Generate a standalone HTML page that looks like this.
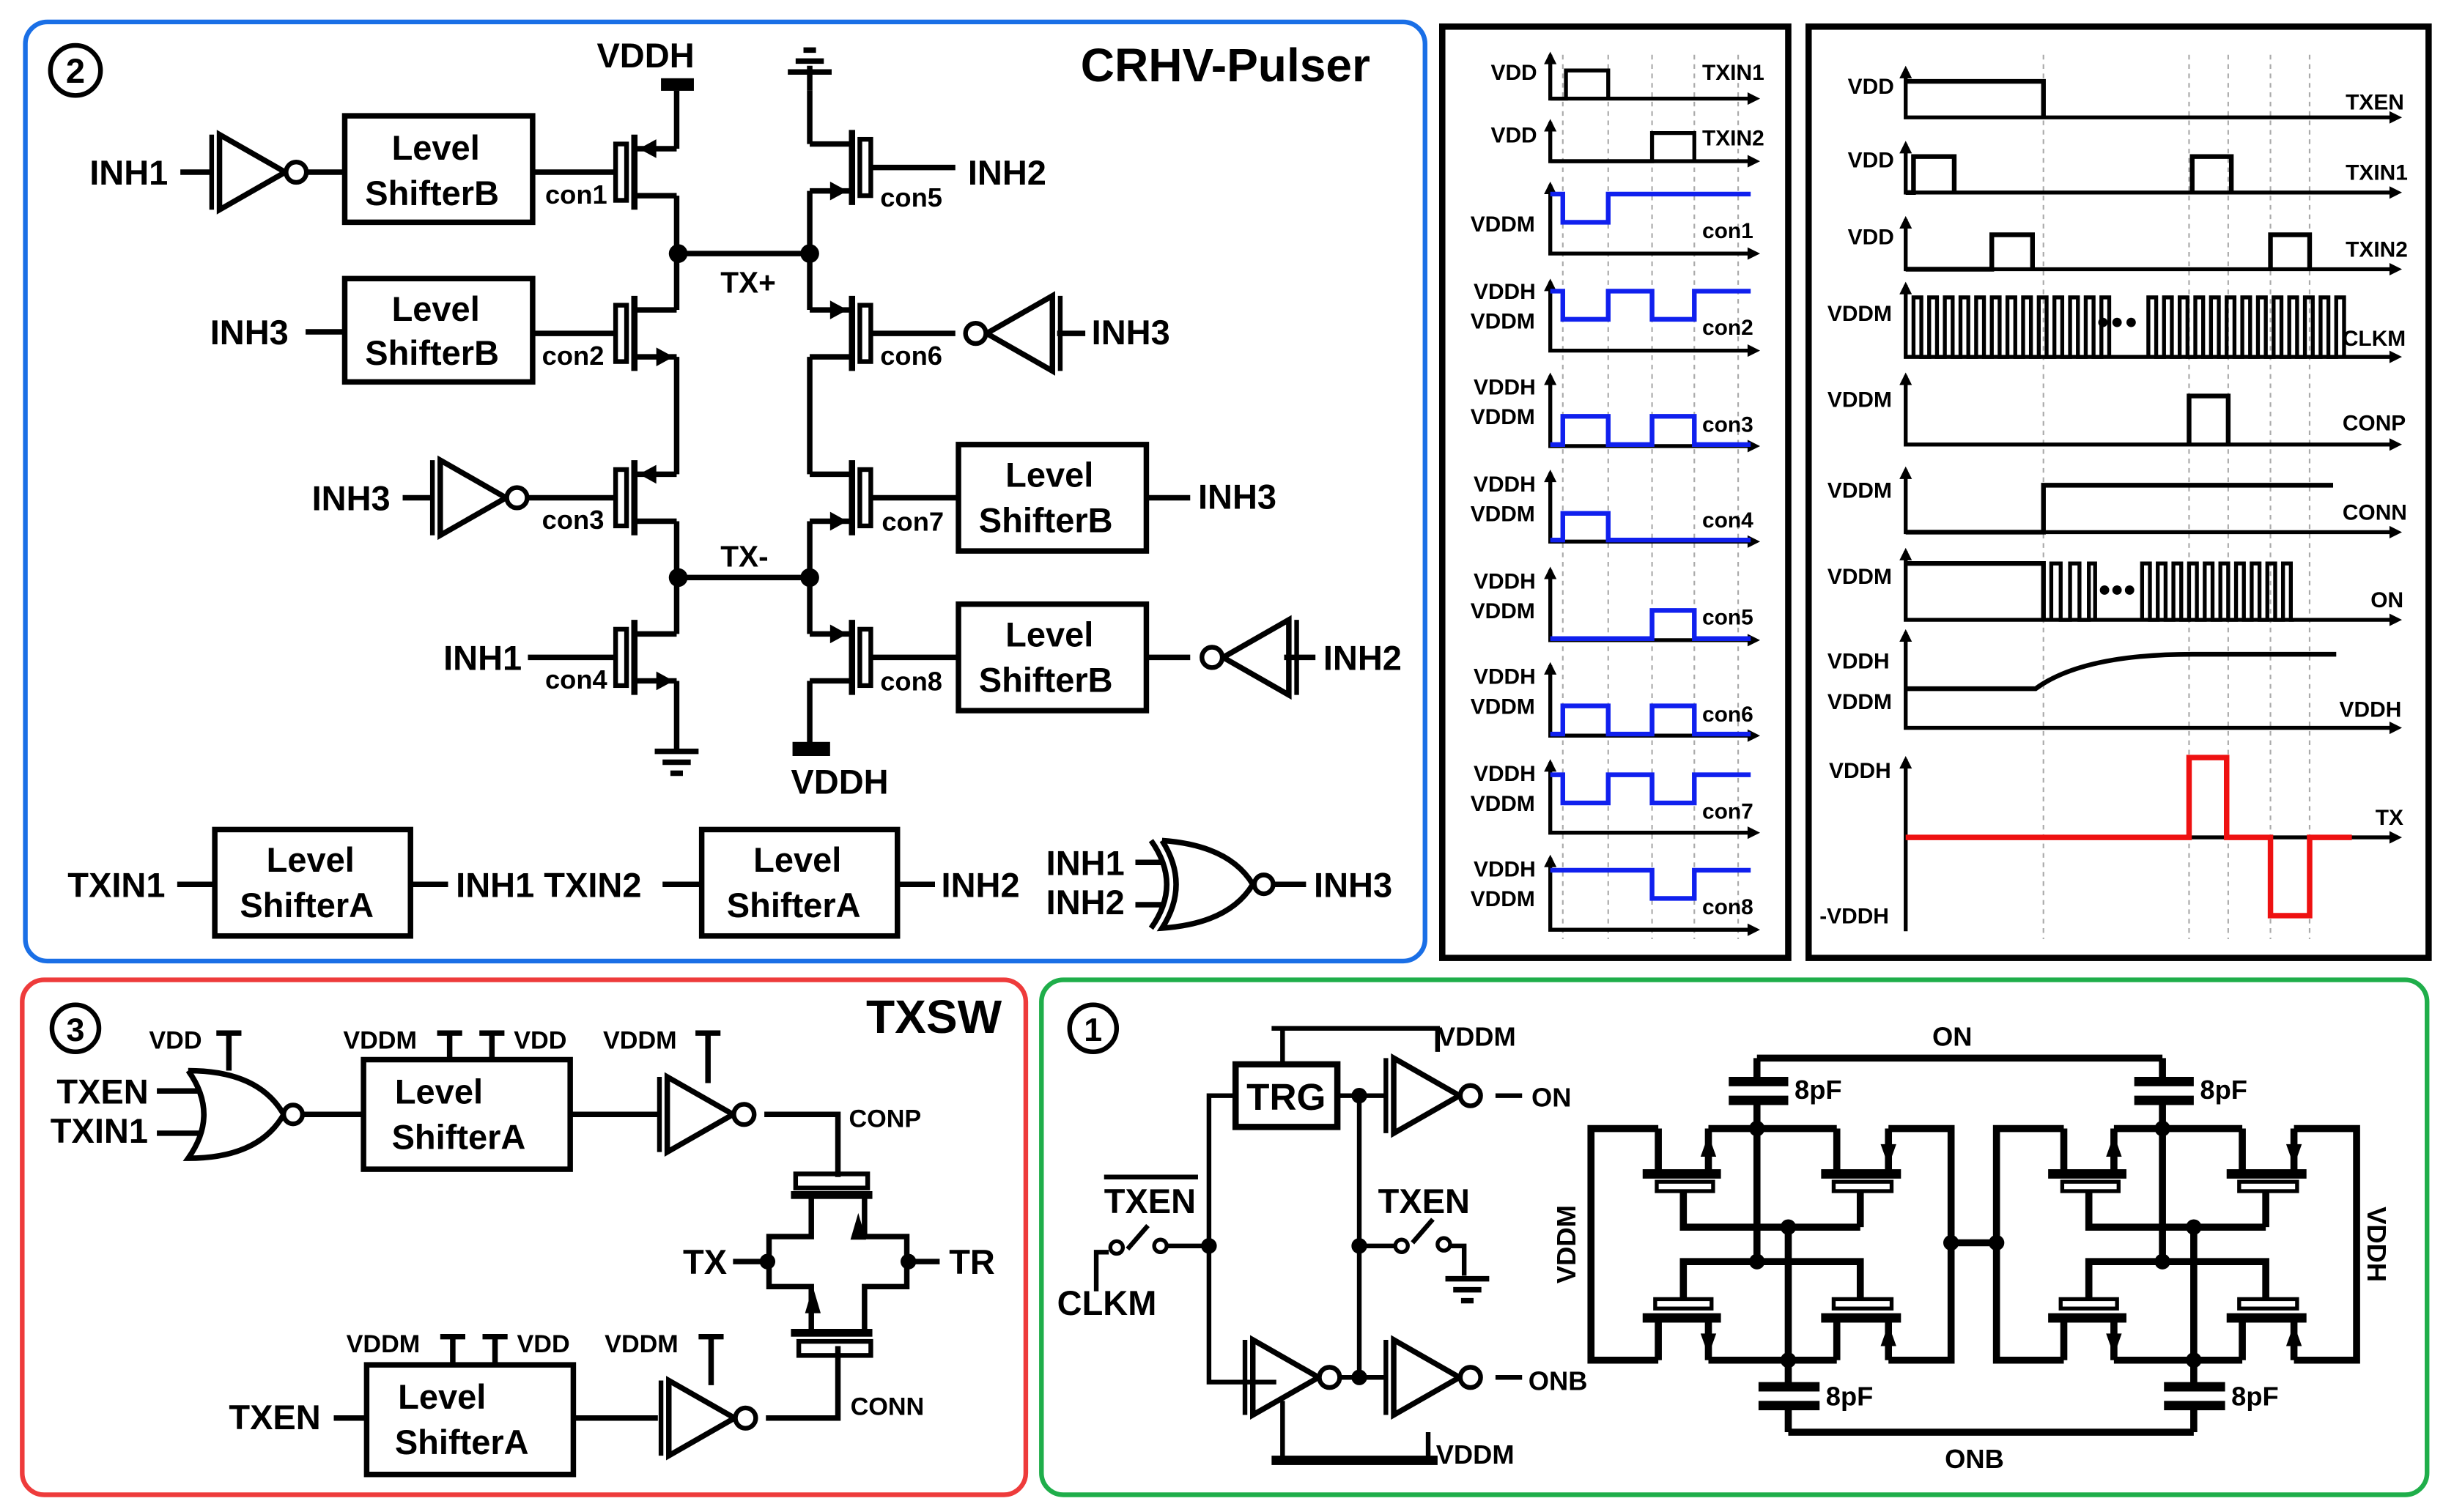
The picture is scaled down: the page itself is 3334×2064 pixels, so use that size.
<!DOCTYPE html>
<html><head><meta charset="utf-8"><style>
html,body{margin:0;padding:0;background:#fff;}
svg{display:block}
text{font-family:"Liberation Sans",sans-serif;font-weight:bold;fill:#000}
</style></head><body>
<svg width="3334" height="2064" viewBox="0 0 1560 966" xmlns="http://www.w3.org/2000/svg">
<defs>
<g id="tb"><!-- transistor body, gate on left -->
<rect x="-15" y="-18" width="7" height="36" fill="none" stroke="#000" stroke-width="3"/>
<line x1="-3" y1="-24" x2="-3" y2="24" stroke="#000" stroke-width="4"/>
<path d="M-3,-15 H24 M-3,15 H24" stroke="#000" stroke-width="3.5" fill="none"/>
</g>
<g id="tp"><use href="#tb"/><path d="M0,-15 l11,-6 v12z" fill="#000"/></g>
<g id="tn"><use href="#tb"/><path d="M22,15 l-11,-6 v12z" fill="#000"/></g>
<g id="tpi"><use href="#tb"/><path d="M0,15 l11,-6 v12z" fill="#000"/></g>
<g id="inv">
<path d="M0,-24 L0,24 L42,0 Z" fill="none" stroke="#000" stroke-width="3.5"/>
<line x1="-5" y1="-24" x2="-5" y2="24" stroke="#000" stroke-width="3"/>
<circle cx="49" cy="0" r="6.5" fill="#fff" stroke="#000" stroke-width="3"/>
</g>
<g id="gnd"><path d="M-14,0 H14 M-9,7 H9 M-4,14 H4" stroke="#000" stroke-width="3.5"/></g>
<g id="cc">
<g fill="none" stroke="#000" stroke-width="4.5">
<path d="M1059,721 H1016 V869 H1059"/>
<path d="M1059,721 V750 M1075,761 V784 H1188 M1091,750 V721 M1091,721 H1173"/>
<path d="M1173,721 V750 M1188,761 V784 M1206,750 V721 M1206,721 H1246 V869 H1206"/>
<path d="M1122,703 V806 M1142,784 V886 M1142,897 V915 M1122,676 V691"/>
<path d="M1075,830 V806 H1188 V830"/>
<path d="M1059,842 V869 M1091,842 V869 M1091,869 H1173 M1173,842 V869 M1206,842 V869"/>
</g>
<g fill="#000">
<rect x="1049" y="747" width="50" height="6"/><rect x="1163" y="747" width="51" height="6"/>
<rect x="1049" y="839" width="50" height="6"/><rect x="1163" y="839" width="51" height="6"/>
<rect x="1104" y="688" width="38" height="6"/><rect x="1104" y="700" width="38" height="6"/>
<rect x="1123" y="883" width="39" height="6"/><rect x="1123" y="895" width="39" height="6"/>
<circle cx="1122" cy="721" r="5"/><circle cx="1122" cy="806" r="5"/><circle cx="1142" cy="784" r="5"/><circle cx="1142" cy="869" r="5"/>
<path d="M1091,725 l-5,14 h10z M1206,745 l-5,-14 h10z M1091,866 l-5,-14 h10z M1206,846 l-5,14 h10z"/>
</g>
<g fill="#fff" stroke="#000" stroke-width="2.5">
<rect x="1058" y="755" width="36" height="6"/><rect x="1171" y="755" width="37" height="6"/>
<rect x="1057" y="830" width="36" height="6"/><rect x="1171" y="830" width="37" height="6"/>
</g>
</g>
</defs>

<!-- Panel borders -->
<rect x="16" y="14" width="894" height="600" rx="14" fill="none" stroke="#1a6fe6" stroke-width="3"/>
<rect x="921" y="17" width="221" height="595" fill="none" stroke="#000" stroke-width="4"/>
<rect x="1155" y="17" width="396" height="595" fill="none" stroke="#000" stroke-width="4"/>
<rect x="14" y="626" width="641" height="329" rx="14" fill="none" stroke="#ee3b3b" stroke-width="3"/>
<rect x="665" y="626" width="885" height="329" rx="14" fill="none" stroke="#1fae4a" stroke-width="3"/>

<!-- ===== Panel 2 ===== -->
<circle cx="48" cy="45" r="16" fill="none" stroke="#000" stroke-width="3"/>
<text x="48" y="53" font-size="22" text-anchor="middle">2</text>
<text x="690" y="52" font-size="30">CRHV-Pulser</text>
<text x="381" y="43" font-size="22">VDDH</text>
<rect x="422" y="50" width="21" height="8" fill="#000"/>
<g stroke="#000" stroke-width="3.5" fill="none">
<path d="M432,58 V95 M432,125 V198 M432,228 V303 M432,333 V405 M432,435 V480"/>
<path d="M517,58 V92 M517,122 V198 M517,228 V303 M517,333 V405 M517,435 V475"/>
<path d="M517,42 V58"/>
<path d="M433,162 H517 M433,369 H517"/>
</g>
<use href="#gnd" transform="translate(517,46) rotate(180)"/>
<rect x="506" y="474" width="24" height="9" fill="#000"/>
<text x="505" y="507" font-size="22">VDDH</text>
<use href="#gnd" x="432" y="480"/>
<circle cx="433" cy="162" r="6" fill="#000"/><circle cx="517" cy="162" r="6" fill="#000"/>
<circle cx="433" cy="369" r="6" fill="#000"/><circle cx="517" cy="369" r="6" fill="#000"/>
<text x="460" y="187" font-size="19">TX+</text>
<text x="460" y="362" font-size="19">TX-</text>
<use href="#tp" x="408" y="110"/><use href="#tn" x="408" y="213"/><use href="#tp" x="408" y="318"/><use href="#tn" x="408" y="420"/>
<g transform="translate(1050,0) scale(-1,1)"><use href="#tpi" x="509" y="107"/><use href="#tp" x="509" y="213"/><use href="#tpi" x="509" y="318"/><use href="#tp" x="509" y="420"/></g>
<text x="348" y="130" font-size="17">con1</text><text x="346" y="233" font-size="17">con2</text>
<text x="346" y="338" font-size="17">con3</text><text x="348" y="440" font-size="17">con4</text>
<text x="562" y="132" font-size="17">con5</text><text x="562" y="233" font-size="17">con6</text>
<text x="563" y="339" font-size="17">con7</text><text x="562" y="441" font-size="17">con8</text>
<g fill="none" stroke="#000" stroke-width="3.5">
<rect x="220" y="74" width="120" height="68"/><rect x="220" y="178" width="120" height="66"/>
<rect x="612" y="284" width="120" height="68"/><rect x="612" y="386" width="120" height="68"/>
<rect x="137" y="530" width="125" height="68"/><rect x="448" y="530" width="125" height="68"/>
<path d="M115,110 H135 M193,110 H220 M340,110 H393"/>
<path d="M195,212 H220 M340,213 H393"/>
<path d="M257,318 H276 M333,318 H393"/>
<path d="M337,420 H393"/>
<path d="M557,107 H610"/>
<path d="M557,213 H610 M675,213 H693"/>
<path d="M557,318 H612 M732,318 H760"/>
<path d="M557,420 H612 M732,420 H760 M820,420 H840"/>
<path d="M113,565 H137 M262,565 H286 M423,565 H448 M573,565 H597"/>
<path d="M725,551 H742 M725,578 H742 M812,565 H834"/>
<path d="M735,537 Q755,565 735,593 M742,537 Q760,565 742,593 Q785,590 800,565 Q785,540 742,537"/>
</g>
<circle cx="807" cy="565" r="6" fill="#fff" stroke="#000" stroke-width="3"/>
<use href="#inv" x="140" y="110"/><use href="#inv" x="281" y="318"/>
<use href="#inv" transform="translate(672,213) scale(-1,1)"/>
<use href="#inv" transform="translate(823,420) scale(-1,1)"/>
<g font-size="22">
<text x="250" y="102">Level</text><text x="233" y="131">ShifterB</text>
<text x="250" y="205">Level</text><text x="233" y="233">ShifterB</text>
<text x="642" y="311">Level</text><text x="625" y="340">ShifterB</text>
<text x="642" y="413">Level</text><text x="625" y="442">ShifterB</text>
<text x="170" y="557">Level</text><text x="153" y="586">ShifterA</text>
<text x="481" y="557">Level</text><text x="464" y="586">ShifterA</text>
<text x="57" y="118">INH1</text><text x="134" y="220">INH3</text><text x="199" y="326">INH3</text>
<text x="283" y="428">INH1</text><text x="618" y="118">INH2</text><text x="697" y="220">INH3</text>
<text x="765" y="325">INH3</text><text x="845" y="428">INH2</text>
<text x="43" y="573">TXIN1</text><text x="291" y="573">INH1 TXIN2</text><text x="601" y="573">INH2</text>
<text x="668" y="559">INH1</text><text x="668" y="584">INH2</text><text x="839" y="573">INH3</text>
</g>

<!-- ===== Waveform panel A ===== -->
<g stroke="#aaa" stroke-width="1" stroke-dasharray="3,3">
<path d="M998,35 V600 M1027,35 V600 M1055,35 V600 M1082,35 V600 M1110,35 V600"/>
</g>
<g stroke="#000" stroke-width="2.5" fill="none">
<path d="M990,35 V63 H1120 M990,78 V103 H1120 M990,118 V162 H1120 M990,180 V224 H1120 M990,240 V285 H1120 M990,302 V346 H1120 M990,364 V409 H1120 M990,425 V470 H1120 M990,487 V532 H1120 M990,548 V594 H1120"/>
<path d="M990,63 H1000 V45 H1027 V63 M990,103 H1055 V85 H1082 V103"/>
</g>
<g fill="#000">
<path d="M1124,63 l-8,-4 v8z M1124,103 l-8,-4 v8z M1124,162 l-8,-4 v8z M1124,224 l-8,-4 v8z M1124,285 l-8,-4 v8z M1124,346 l-8,-4 v8z M1124,409 l-8,-4 v8z M1124,470 l-8,-4 v8z M1124,532 l-8,-4 v8z M1124,594 l-8,-4 v8z"/>
<path d="M990,33 l-4,8 h8z M990,76 l-4,8 h8z M990,116 l-4,8 h8z M990,178 l-4,8 h8z M990,238 l-4,8 h8z M990,300 l-4,8 h8z M990,362 l-4,8 h8z M990,423 l-4,8 h8z M990,485 l-4,8 h8z M990,546 l-4,8 h8z"/>
</g>
<g stroke="#1020ee" stroke-width="3" fill="none">
<path d="M990,124 H998 V142 H1027 V124 H1118"/>
<path d="M990,186 H998 V204 H1027 V186 H1055 V204 H1082 V186 H1118"/>
<path d="M990,284 H998 V266 H1027 V284 H1055 V266 H1082 V284 H1118"/>
<path d="M990,345 H998 V328 H1027 V345 H1118"/>
<path d="M990,408 H1055 V390 H1082 V408 H1118"/>
<path d="M990,469 H998 V451 H1027 V469 H1055 V451 H1082 V469 H1118"/>
<path d="M990,495 H998 V513 H1027 V495 H1055 V513 H1082 V495 H1118"/>
<path d="M990,556 H1055 V574 H1082 V556 H1118"/>
</g>
<g font-size="14">
<text x="952" y="51">VDD</text><text x="1087" y="51">TXIN1</text>
<text x="952" y="91">VDD</text><text x="1087" y="93">TXIN2</text>
<text x="939" y="148">VDDM</text><text x="1087" y="152">con1</text>
<text x="941" y="191">VDDH</text><text x="939" y="210">VDDM</text><text x="1087" y="214">con2</text>
<text x="941" y="252">VDDH</text><text x="939" y="271">VDDM</text><text x="1087" y="276">con3</text>
<text x="941" y="314">VDDH</text><text x="939" y="333">VDDM</text><text x="1087" y="337">con4</text>
<text x="941" y="376">VDDH</text><text x="939" y="395">VDDM</text><text x="1087" y="399">con5</text>
<text x="941" y="437">VDDH</text><text x="939" y="456">VDDM</text><text x="1087" y="461">con6</text>
<text x="941" y="499">VDDH</text><text x="939" y="518">VDDM</text><text x="1087" y="523">con7</text>
<text x="941" y="560">VDDH</text><text x="939" y="579">VDDM</text><text x="1087" y="584">con8</text>
</g>

<!-- ===== Waveform panel B ===== -->
<g stroke="#aaa" stroke-width="1" stroke-dasharray="3,3">
<path d="M1305,35 V600 M1398,35 V600 M1423,35 V600 M1450,35 V600 M1475,35 V600"/>
</g>
<g stroke="#000" stroke-width="2.5" fill="none">
<path d="M1217,44 V75 H1530 M1217,92 V123 H1530 M1217,140 V172 H1530 M1217,182 V228 H1530 M1217,240 V284 H1530 M1217,300 V340 H1530 M1217,352 V396 H1530 M1217,404 V465 H1530 M1217,485 V595"/>
<path d="M1217,535 H1530"/>
</g>
<g fill="#000">
<path d="M1534,75 l-8,-4 v8z M1534,123 l-8,-4 v8z M1534,172 l-8,-4 v8z M1534,228 l-8,-4 v8z M1534,284 l-8,-4 v8z M1534,340 l-8,-4 v8z M1534,396 l-8,-4 v8z M1534,465 l-8,-4 v8z M1534,535 l-8,-4 v8z"/>
<path d="M1217,42 l-4,8 h8z M1217,90 l-4,8 h8z M1217,138 l-4,8 h8z M1217,180 l-4,8 h8z M1217,238 l-4,8 h8z M1217,298 l-4,8 h8z M1217,350 l-4,8 h8z M1217,402 l-4,8 h8z M1217,483 l-4,8 h8z"/>
</g>
<g stroke="#000" stroke-width="3" fill="none">
<path d="M1217,52 H1305 V75"/>
<path d="M1217,123 H1222 V100 H1248 V123 M1400,123 V100 H1425 V123"/>
<path d="M1217,172 H1272 V150 H1298 V172 M1450,172 V150 H1475 V172"/>
<path d="M1217,340 H1305 V310 H1490"/>
<path d="M1217,440 H1300 Q1330,418 1400,418 H1492"/>
<path d="M1398,284 V253 H1423 V284"/>
<path d="M1217,360 H1305 V396"/>
</g>
<g stroke="#000" stroke-width="2.5" fill="none">
<path d="M1222,228 V190 h5 v38 h5 v-38 h5 v38 h5 v-38 h5 v38 h5 v-38 h5 v38 h5 v-38 h5 v38 h5 v-38 h5 v38 h5 v-38 h5 v38 h5 v-38 h5 v38 h5 v-38 h5 v38 h5 v-38 h5 v38 h5 v-38 h5 v38 h5 v-38 h5 v38 h5 v-38 h5 v38"/>
<path d="M1372,228 V190 h5 v38 h5 v-38 h5 v38 h5 v-38 h5 v38 h5 v-38 h5 v38 h5 v-38 h5 v38 h5 v-38 h5 v38 h5 v-38 h5 v38 h5 v-38 h5 v38 h5 v-38 h5 v38 h5 v-38 h5 v38 h5 v-38 h5 v38 h5 v-38 h5 v38 h5 v-38 h5 v38"/>
<path d="M1310,396 V360 h6 v36 h6 v-36 h6 v36 h6 v-36 h4 v36"/>
<path d="M1368,396 V360 h5 v36 h5 v-36 h5 v36 h5 v-36 h5 v36 h5 v-36 h5 v36 h5 v-36 h5 v36 h5 v-36 h5 v36 h5 v-36 h5 v36 h5 v-36 h5 v36 h5 v-36 h5 v36 h5 v-36 h5 v36 h2"/>
</g>
<g fill="#000"><circle cx="1343" cy="206" r="3"/><circle cx="1352" cy="206" r="3"/><circle cx="1361" cy="206" r="3"/>
<circle cx="1344" cy="377" r="3"/><circle cx="1352" cy="377" r="3"/><circle cx="1360" cy="377" r="3"/></g>
<path d="M1217,535 H1398 V484 H1422 V535 H1450 V585 H1475 V535 H1502" stroke="#ee1111" stroke-width="3.5" fill="none"/>
<g font-size="14">
<text x="1180" y="60">VDD</text><text x="1498" y="70">TXEN</text>
<text x="1180" y="107">VDD</text><text x="1498" y="115">TXIN1</text>
<text x="1180" y="156">VDD</text><text x="1498" y="164">TXIN2</text>
<text x="1167" y="205">VDDM</text><text x="1496" y="221">CLKM</text>
<text x="1167" y="260">VDDM</text><text x="1496" y="275">CONP</text>
<text x="1167" y="318">VDDM</text><text x="1496" y="332">CONN</text>
<text x="1167" y="373">VDDM</text><text x="1514" y="388">ON</text>
<text x="1167" y="427">VDDH</text><text x="1167" y="453">VDDM</text><text x="1494" y="458">VDDH</text>
<text x="1168" y="497">VDDH</text><text x="1162" y="590">-VDDH</text><text x="1517" y="527">TX</text>
</g>

<!-- ===== Panel 3 TXSW ===== -->
<circle cx="48" cy="657" r="15" fill="none" stroke="#000" stroke-width="3"/>
<text x="48" y="665" font-size="21" text-anchor="middle">3</text>
<text x="553" y="660" font-size="30">TXSW</text>
<g fill="none" stroke="#000" stroke-width="3.5">
<path d="M100,697 H128 M100,724 H128 M146,660 V684 M138,660 H154"/>
<path d="M120,684 Q140,712 120,740 Q165,740 181,712 Q165,684 120,684"/>
<path d="M193,712 H232 M364,712 H420 M488,712 H535 V752"/>
<rect x="232" y="677" width="132" height="70"/>
<path d="M287,660 V677 M279,660 H295 M314,660 V677 M306,660 H322 M452,660 V692 M444,660 H460"/>
<path d="M213,906 H234 M366,906 H420 M489,906 H535 V860"/>
<rect x="234" y="872" width="132" height="70"/>
<path d="M289,854 V872 M281,854 H297 M316,854 V872 M308,854 H324 M454,854 V885 M446,854 H462"/>
<path d="M518,764 V790 H491 V822 H518 V852 M552,764 V790 H579 V822 H552 V852"/>
<path d="M468,806 H490 M580,806 H600"/>
</g>
<rect x="508" y="750" width="46" height="9" fill="none" stroke="#000" stroke-width="3"/>
<rect x="505" y="761" width="52" height="5" fill="#000"/>
<rect x="505" y="849" width="52" height="5" fill="#000"/>
<rect x="510" y="857" width="46" height="9" fill="none" stroke="#000" stroke-width="3"/>
<path d="M548,775 l-5,17 h10z M519,822 l-5,17 h10z" fill="#000"/>
<circle cx="490" cy="806" r="5" fill="#000"/><circle cx="580" cy="806" r="5" fill="#000"/>
<circle cx="187" cy="712" r="6" fill="#fff" stroke="#000" stroke-width="3"/>
<use href="#inv" x="426" y="712"/><use href="#inv" x="427" y="906"/>
<g font-size="22">
<text x="252" y="705">Level</text><text x="250" y="734">ShifterA</text>
<text x="254" y="900">Level</text><text x="252" y="929">ShifterA</text>
<text x="36" y="705">TXEN</text><text x="32" y="730">TXIN1</text>
<text x="146" y="913">TXEN</text><text x="436" y="814">TX</text><text x="606" y="814">TR</text>
</g>
<g font-size="16">
<text x="95" y="670">VDD</text><text x="219" y="670">VDDM</text><text x="328" y="670">VDD</text><text x="385" y="670">VDDM</text>
<text x="221" y="864">VDDM</text><text x="330" y="864">VDD</text><text x="386" y="864">VDDM</text>
<text x="542" y="720">CONP</text><text x="543" y="904">CONN</text>
</g>

<!-- ===== Panel 1 ===== -->
<circle cx="698" cy="657" r="15" fill="none" stroke="#000" stroke-width="3"/>
<text x="698" y="665" font-size="21" text-anchor="middle">1</text>
<g fill="none" stroke="#000" stroke-width="3">
<path d="M812,657 H918 V672 M819,657 V680"/>
<rect x="789" y="680" width="65" height="40" stroke-width="4"/>
<path d="M789,700 H772 V883 H815 M854,700 H885 M868,700 V880 H885"/>
<path d="M700,825 V800 H708 M720,798 L733,783 M745,796 H772 M868,796 H890 M902,794 L915,779 M926,796 H935 V815"/>
<path d="M955,700 H972 M955,880 H972 M853,880 H870"/>
<path d="M815,933 H915 M819,895 V933 M912,915 V933"/>
<path d="M705,752 H765"/>
</g>
<g fill="#fff" stroke="#000" stroke-width="2.5"><circle cx="713" cy="797" r="4"/><circle cx="741" cy="796" r="4"/><circle cx="895" cy="796" r="4"/><circle cx="922" cy="795" r="4"/></g>
<g fill="#000"><circle cx="772" cy="796" r="5"/><circle cx="868" cy="796" r="5"/><circle cx="868" cy="700" r="5"/><circle cx="868" cy="880" r="5"/></g>
<use href="#gnd" x="937" y="817"/>
<rect x="812" y="930" width="106" height="6" fill="#000"/>
<use href="#inv" x="890" y="700"/><use href="#inv" x="800" y="880"/><use href="#inv" x="890" y="880"/>
<text x="796" y="709" font-size="24">TRG</text>
<g font-size="22"><text x="705" y="775">TXEN</text><text x="880" y="775">TXEN</text><text x="675" y="840">CLKM</text></g>
<g font-size="17"><text x="918" y="668">VDDM</text><text x="978" y="707">ON</text><text x="976" y="888">ONB</text><text x="917" y="935">VDDM</text>
<text x="1234" y="668">ON</text><text x="1242" y="938">ONB</text>
<text x="1146" y="702">8pF</text><text x="1405" y="702">8pF</text><text x="1166" y="898">8pF</text><text x="1425" y="898">8pF</text>
<text transform="translate(1006,795) rotate(-90)" text-anchor="middle">VDDM</text>
<text transform="translate(1512,795) rotate(90)" text-anchor="middle">VDDH</text></g>
<use href="#cc"/>
<use href="#cc" x="259"/>
<g fill="none" stroke="#000" stroke-width="4.5">
<path d="M1122,676 H1381 M1142,915 H1401 M1246,794 H1275"/>
</g>
<circle cx="1246" cy="794" r="5" fill="#000"/><circle cx="1275" cy="794" r="5" fill="#000"/>
</svg>
</body></html>
